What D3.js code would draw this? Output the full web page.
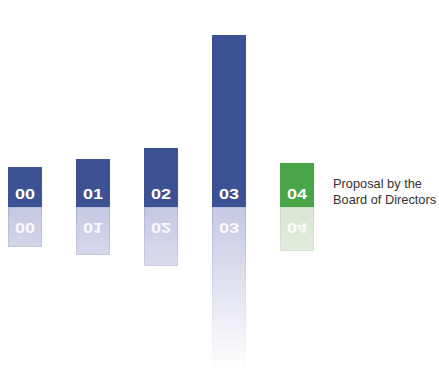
<!DOCTYPE html>
<html><head><meta charset="utf-8">
<script src="https://cdn.jsdelivr.net/npm/d3@7"></script>
<style>html,body{margin:0;padding:0;background:#fff;}svg{display:block;}</style>
</head><body>
<svg id="c" width="439" height="371"></svg>
<script>
const categories = ["00", "01", "02", "03", "04"];
const values = [40, 48, 59, 172, 44];
const highlight = ["04"];
const legendLines = ["Proposal by the", "Board of Directors"];

const svg = d3.select("#c");
const baseY = 207;
const x = d3.scaleBand().domain(categories).range([8, 314]).paddingInner(0.5).paddingOuter(0);
const h = d3.scaleLinear().domain([0, 172]).range([0, 172]);

const defs = svg.append("defs");
function grad(id, c0, c1) {
  const g = defs.append("linearGradient").attr("id", id)
    .attr("gradientUnits", "userSpaceOnUse").attr("x1", 0).attr("x2", 0)
    .attr("y1", baseY).attr("y2", 371);
  g.append("stop").attr("offset", 0).attr("stop-color", c0);
  g.append("stop").attr("offset", 1).attr("stop-color", c1);
}
grad("gb", "#c5c8e2", "#ffffff");
grad("gg", "#d8e6d2", "#ffffff");
grad("sb", "#aeb3d8", "#ffffff");
grad("sg", "#c4dcbd", "#ffffff");

const isHi = d => highlight.includes(d);
const data = categories.map((c, i) => ({c, v: values[i]}));

// reflections
svg.selectAll("rect.refl").data(data).join("rect").attr("class", "refl")
  .attr("x", d => x(d.c) + 0.5).attr("y", baseY)
  .attr("width", x.bandwidth() - 1).attr("height", d => h(d.v) - 0.5)
  .attr("fill", d => isHi(d.c) ? "url(#gg)" : "url(#gb)")
  .attr("stroke", d => isHi(d.c) ? "url(#sg)" : "url(#sb)").attr("stroke-width", 1);

// bars
svg.selectAll("rect.bar").data(data).join("rect").attr("class", "bar")
  .attr("x", d => x(d.c)).attr("y", d => baseY - h(d.v))
  .attr("width", x.bandwidth()).attr("height", d => h(d.v))
  .attr("fill", d => isHi(d.c) ? "#4aa448" : "#3c5294");

const labFont = "Liberation Sans, Arial, sans-serif";
// labels
svg.selectAll("text.lab").data(data).join("text").attr("class", "lab")
  .attr("transform", d => `translate(${x(d.c) + x.bandwidth() / 2},198.5) scale(1.2,1)`)
  .attr("text-anchor", "middle").attr("fill", "#fff")
  .attr("font-family", labFont).attr("font-weight", "bold").attr("font-size", 15)
  .text(d => d.c);

// mirrored labels
svg.selectAll("text.rlab").data(data).join("text").attr("class", "rlab")
  .attr("transform", d => `translate(${x(d.c) + x.bandwidth() / 2},223) scale(1.2,-1)`)
  .attr("text-anchor", "middle").attr("fill", "#fff").attr("fill-opacity", 0.9)
  .attr("font-family", labFont).attr("font-weight", "bold").attr("font-size", 15)
  .text(d => d.c);

// legend text
const lg = svg.append("text").attr("x", 333).attr("y", 187.5)
  .attr("font-family", "Liberation Sans, Arial, sans-serif").attr("font-size", 12.8).attr("fill", "#333");
legendLines.forEach((t, i) => lg.append("tspan").attr("x", 333).attr("dy", i ? 16 : 0).text(t));
</script>
</body></html>
